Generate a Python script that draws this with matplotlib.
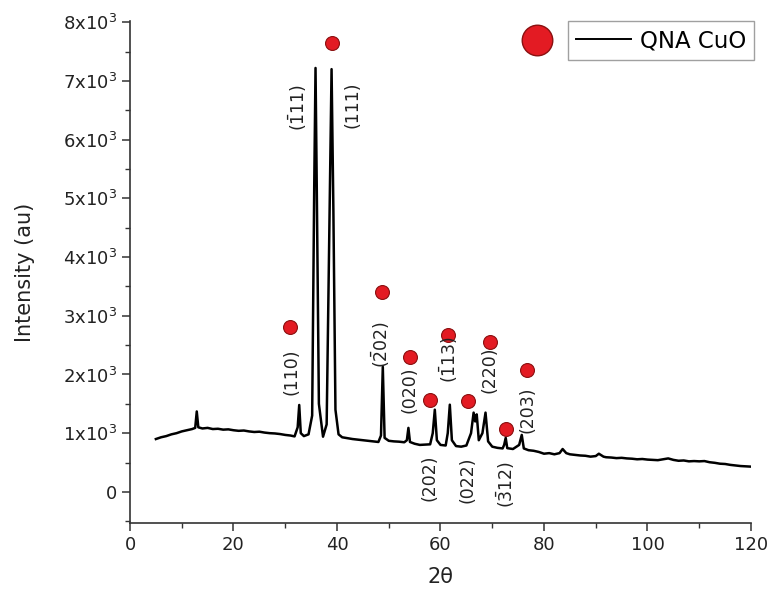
import matplotlib
matplotlib.use("Agg")
import matplotlib.pyplot as plt
from matplotlib.lines import Line2D
from matplotlib.ticker import MultipleLocator, FuncFormatter

plt.rcParams['font.family'] = ['DejaVu Sans']

# XRD pattern: (2theta, intensity)
pattern = [
    (5, 900), (6, 930), (7, 950), (8, 980), (9, 1000), (10, 1030), (11, 1050),
    (12, 1070), (12.6, 1090), (12.9, 1370), (13.2, 1100), (14, 1080), (15, 1090),
    (16, 1070), (17, 1075), (18, 1060), (19, 1065), (20, 1050), (21, 1040),
    (22, 1045), (23, 1030), (24, 1020), (25, 1025), (26, 1010), (27, 1000),
    (28, 995), (29, 985), (30, 970), (31, 960), (31.8, 945), (32.4, 1100),
    (32.7, 1480), (33.0, 1000), (33.6, 950), (34.5, 980), (35.2, 1300),
    (35.6, 5200), (35.85, 7220), (36.1, 5100), (36.5, 1500), (37.3, 940),
    (38.0, 1150), (38.6, 5000), (38.95, 7200), (39.3, 4800), (39.7, 1400),
    (40.3, 980), (41, 930), (42, 915), (43, 900), (44, 890), (45, 880),
    (46, 870), (47, 860), (48, 850), (48.5, 960), (48.85, 2130), (49.2, 920),
    (50, 870), (51, 860), (52, 855), (53, 845), (53.5, 880), (53.8, 1090),
    (54.1, 850), (55, 820), (56, 800), (57, 805), (58, 810), (58.5, 1000),
    (58.9, 1400), (59.3, 880), (60, 800), (61, 790), (61.4, 1000), (61.8, 1485),
    (62.2, 880), (63, 780), (64, 770), (65, 790), (65.9, 1000), (66.4, 1350),
    (66.7, 1200), (67.0, 1320), (67.4, 880), (68.1, 1000), (68.7, 1350),
    (69.2, 860), (70, 770), (71, 750), (72, 740), (72.3, 800), (72.6, 920),
    (72.9, 745), (74, 730), (75.2, 800), (75.7, 970), (76.1, 740), (77, 710),
    (78, 700), (79, 680), (80, 650), (81, 660), (82, 640), (83, 660), (83.6, 730),
    (84.3, 660), (85, 640), (86, 630), (87, 620), (88, 615), (89, 600), (90, 610),
    (90.6, 650), (91.5, 600), (92, 590), (93, 585), (94, 575), (95, 580),
    (96, 570), (97, 565), (98, 555), (99, 560), (100, 550), (101, 545),
    (102, 540), (103, 555), (104, 570), (105, 545), (106, 530), (107, 535),
    (108, 520), (109, 525), (110, 520), (111, 525), (112, 505), (113, 495),
    (114, 480), (115, 475), (116, 460), (117, 450), (118, 440), (119, 435),
    (120, 430),
]

# peak markers (red dots)
marker_x = [30.9, 39.0, 48.6, 54.2, 57.9, 61.4, 65.4, 69.5, 72.6, 76.8]
marker_y = [2800, 7645, 3410, 2290, 1570, 2680, 1550, 2560, 1075, 2080]

# Miller index labels
hkl_text = ['(110)', r'($\bar{1}$11)', '(111)', r'($\bar{2}$02)', '(020)',
            r'($\bar{1}$13)', '(220)', '(203)', '(202)', '(022)', r'($\bar{3}$12)']
hkl_x = [31.2, 32.4, 42.9, 48.5, 54.1, 61.6, 69.5, 76.8, 57.9, 65.3, 72.6]
hkl_y = [2050, 6550, 6600, 2510, 1740, 2250, 2080, 1400, 240, 200, 120]


def y_fmt(v, pos):
    n = int(round(v / 1000))
    if n == 0:
        return '0'
    return '%dx10$^3$' % n


two_theta = [p[0] for p in pattern]
intensity = [p[1] for p in pattern]

fig = plt.figure(figsize=(7.72, 6), dpi=100)
ax = fig.add_axes([130 / 772, 77 / 600, 621 / 772, 502 / 600])

ax.plot(two_theta, intensity, color='black', lw=1.8)
ax.plot(marker_x, marker_y, 'o', color='#e31b23', mec='#8a1010', mew=0.8, ms=10,
        ls='none')

for t, x, y in zip(hkl_text, hkl_x, hkl_y):
    ax.text(x, y, t, rotation=90, ha='center', va='center', fontsize=12.5,
            color='#222222')

ax.set_xlim(0, 120)
ax.set_ylim(-530, 8020)
ax.xaxis.set_major_locator(MultipleLocator(20))
ax.xaxis.set_minor_locator(MultipleLocator(10))
ax.yaxis.set_major_locator(MultipleLocator(1000))
ax.yaxis.set_minor_locator(MultipleLocator(500))
ax.yaxis.set_major_formatter(FuncFormatter(y_fmt))

for side in ['top', 'right']:
    ax.spines[side].set_visible(False)
for side in ['left', 'bottom']:
    ax.spines[side].set_linewidth(1.2)
    ax.spines[side].set_color('#333333')

ax.tick_params(which='major', direction='out', length=6, width=1.1,
               labelsize=13, colors='#333333', labelcolor='#222222')
ax.tick_params(which='minor', direction='out', length=3.5, width=1.0,
               colors='#333333')

ax.set_xlabel('2θ', fontsize=15, color='#222222', labelpad=9)
ax.set_ylabel('Intensity (au)', fontsize=15, color='#222222', labelpad=20)

# legend: line inside a frame, big red dot sitting to its left
handle = Line2D([], [], color='black', lw=1.4)
leg = ax.legend([handle], ['QNA CuO'], loc='upper right', bbox_to_anchor=(1.005, 1.0),
                borderaxespad=0, fancybox=False, fontsize=16.5, handlelength=2.4,
                handletextpad=0.4, borderpad=0.35)
leg.get_frame().set_edgecolor('#888888')
leg.get_frame().set_linewidth(1.0)
ax.plot([0.655], [0.962], 'o', transform=ax.transAxes, color='#e31b23',
        mec='#8a1010', mew=1.0, ms=22, clip_on=False)

fig.savefig('out.png', dpi=100)
